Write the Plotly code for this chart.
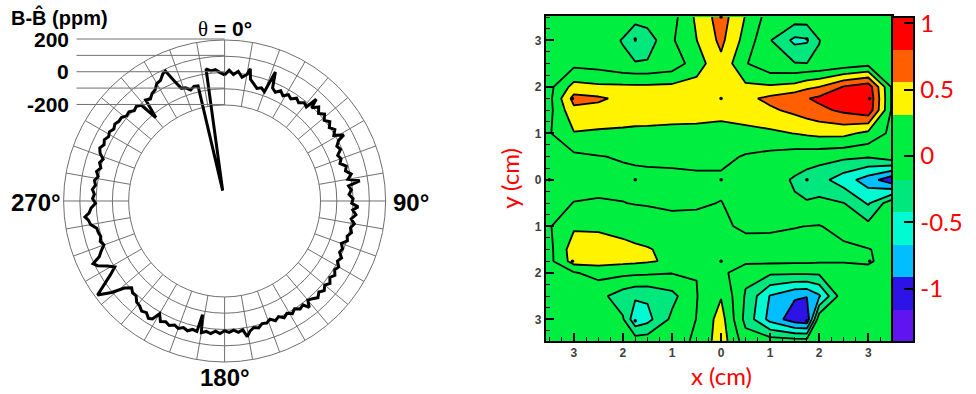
import plotly.graph_objects as go

W, H = 976, 394

# ---------------- ring scan: B - B_hat (ppm) vs azimuth (deg, clockwise from top) -------------
theta_deg = [0, 2, 4, 6, 8, 10, 11, 12, 14, 16, 18, 20, 21.5, 23, 25, 27, 29, 31, 33, 35, 37, 39,
             41, 42, 43, 45, 47, 49, 51, 53, 55, 57, 59, 61, 62, 64, 66, 68, 70, 72, 74, 76, 78,
             80, 81.5, 83, 85, 87, 89, 91, 92.5, 94, 96, 98, 100, 102, 104, 106, 108, 110, 112,
             114, 116, 118, 120, 122, 124, 126, 128, 130, 132, 134, 136, 138, 140, 141.5, 143,
             145, 147, 149, 151, 153, 155, 157, 159, 161, 163, 165, 167, 169, 170.5, 172, 174,
             176, 178, 180, 182, 184, 186, 188, 190, 191, 192, 194, 196, 198, 200, 202, 204, 206,
             208, 210, 211.5, 213, 215, 217, 219, 221, 223, 225, 227, 229, 231, 233.5, 235, 237,
             239, 241, 243, 244.5, 246, 248, 250, 252, 254, 256, 258, 260, 262, 263.5, 265, 267,
             269, 271, 273, 275, 277, 279, 281, 283, 285, 287, 289, 291, 293, 295, 297, 299, 301,
             303, 305, 307, 309, 311, 313, 315, 317, 319, 320.5, 322, 324, 326, 328, 330, 332,
             334, 335.5, 337, 339, 341, 343, 345, 347, 349.5, 352, 354, 356, 358, 360]
dB_ppm = [-15, 15, -10, 12, -22, 0, 38, -25, -48, -70, -58, -75, 62, -35, -52, -30, -50, -28,
          -42, -18, -34, -12, -24, 52, -5, 28, 0, 24, -2, 20, -4, 18, -6, 48, 4, -22, -10, -40,
          -28, -44, -12, -24, 6, -20, 50, -22, -8, -24, 0, -8, 32, 0, 22, -4, 20, 2, 14, -6, 4,
          -26, -8, -16, 10, -4, 20, 8, 28, 10, 32, 14, 34, 16, 36, 18, 6, 46, 10, 20, 0, 18, 0,
          16, -6, 10, -12, 4, -2, 18, 8, 26, 56, 10, 22, 6, 18, 8, 26, 12, 30, 20, 32, -78, 30,
          24, 40, 28, 44, 32, 48, 36, 50, 10, 60, 70, 48, 58, 40, 34, 8, 10, -8, 26, 104, 182,
          120, 50, -2, 34, 86, 106, 54, 28, 0, 14, 2, 10, 14, 46, 56, 74, 46, 32, 4, 22, 12, 26,
          10, 20, 2, 18, -2, 14, 0, 30, 44, 28, 40, 26, 36, 22, 34, 24, 26, 8, 14, -4, 6, -10,
          -125, -2, -14, 8, 16, 44, 50, 78, 88, 20, -48, -54, -76, -60, -64, -725, 30, 14, 20, 0,
          -15]

ring_vals = [-200, -100, 0, 100, 200]
scale_labels = {200: "200", 0: "0", -200: "-200"}
spoke_angles = list(range(0, 360, 10))

# polar geometry (pixels)
R_MIN, R_MAX = -790, 200
CX, CY, RAD = 226, 201, 162

# ---------------- field map over the probe area (cm) ----------------
grid_x = [-3.5, -3, -2.5, -2, -1.75, -1.5, -1, -0.5, 0, 0.5, 1, 1.5, 1.75, 2, 2.5, 3, 3.5]
grid_y = [3.5, 3, 2.5, 2, 1.75, 1.5, 1, 0.5, 0, -0.5, -1, -1.5, -1.75, -2, -2.5, -3, -3.5]
dB_map = [
    [0, 0, 0, -0.05, -0.06, -0.06, -0.02, 0.36, 0.68, 0.30, -0.05, -0.04, -0.04, -0.03, 0, 0, 0],
    [0, 0, -0.05, -0.19, -0.43, -0.30, 0.04, 0.31, 0.62, 0.22, -0.16, -0.48, -0.45, -0.18, -0.03, 0, 0],
    [0, 0, -0.03, -0.12, -0.15, -0.15, -0.08, 0.20, 0.50, 0.09, -0.12, -0.16, -0.17, -0.15, -0.10, -0.02, 0],
    [0, 0.40, 0.36, 0.36, 0.36, 0.36, 0.37, 0.40, 0.45, 0.36, 0.35, 0.40, 0.50, 0.56, 0.82, 0.95, 0],
    [0, 0.65, 0.60, 0.50, 0.48, 0.47, 0.46, 0.45, 0.45, 0.50, 0.62, 0.74, 0.79, 0.86, 0.95, 1.02, 0],
    [0, 0.50, 0.48, 0.45, 0.44, 0.43, 0.42, 0.42, 0.40, 0.45, 0.52, 0.62, 0.68, 0.74, 0.86, 0.98, 0],
    [0.05, 0.30, 0.28, 0.27, 0.26, 0.26, 0.25, 0.24, 0.22, 0.24, 0.27, 0.32, 0.35, 0.38, 0.38, 0.25, 0],
    [0, 0.02, 0.06, 0.09, 0.10, 0.11, 0.12, 0.13, 0.13, 0.05, 0.0, -0.05, -0.06, -0.08, -0.12, -0.15, 0],
    [0, 0, 0, 0.01, 0.02, 0.02, 0.02, 0.03, 0.03, 0.0, -0.08, -0.20, -0.27, -0.33, -0.55, -0.78, -1.10],
    [0, 0.075, 0.09, 0.075, 0.06, 0.05, 0.03, 0.05, 0.075, 0.0, -0.08, -0.15, -0.16, -0.12, -0.17, -0.45, 0],
    [0.05, 0.28, 0.28, 0.24, 0.22, 0.20, 0.15, 0.12, 0.10, 0.04, 0.05, 0.065, 0.072, 0.08, 0.0, -0.10, 0],
    [0, 0.45, 0.42, 0.38, 0.35, 0.33, 0.26, 0.18, 0.17, 0.14, 0.12, 0.12, 0.12, 0.12, 0.11, 0.08, 0],
    [0, 0.42, 0.42, 0.38, 0.36, 0.34, 0.28, 0.17, 0.15, 0.13, 0.12, 0.11, 0.11, 0.10, 0.10, 0.09, 0],
    [0, 0.05, 0.15, 0.13, 0.12, 0.11, 0.08, 0.075, 0.15, -0.12, -0.13, -0.13, -0.13, -0.13, -0.15, 0.02, 0],
    [0, 0, -0.10, -0.30, -0.38, -0.38, -0.25, 0.06, 0.30, -0.20, -0.68, -0.88, -0.90, -0.70, 0, 0, 0],
    [0, 0, -0.05, -0.15, -0.60, -0.50, -0.12, 0.075, 0.42, -0.25, -0.75, -1.05, -1.10, 0, 0, 0, 0],
    [0, 0, 0, 0, 0, 0, 0, 0.10, 0.45, -0.05, 0, 0, 0, 0, 0, 0, 0],
]

# probe positions: centre, inner ring (1.75 cm), outer ring (3.5 cm)
probe_x = [0, 0, 1.75, 0, -1.75, 3.5, 3.03, 1.75, 0, -1.75, -3.03, -3.5, -3.03, -1.75, 0, 1.75, 3.03]
probe_y = [0, 1.75, 0, -1.75, 0, 0, 1.75, 3.03, 3.5, 3.03, 1.75, 0, -1.75, -3.03, -3.5, -3.03, -1.75]

level_start, level_end, level_step = -1.155, 0.806, 0.245
scale_min, scale_max = -1.4, 1.05
band_colors = ["rgb(95,20,240)", "rgb(45,20,230)", "rgb(0,190,255)", "rgb(0,250,210)",
               "rgb(0,232,125)", "rgb(0,238,64)", "rgb(0,238,64)", "rgb(255,243,0)",
               "rgb(255,95,0)", "rgb(255,0,0)"]
cbar_vals = [-1, -0.5, 0, 0.5, 1]
cbar_text = ["-1", "-0.5", "0", "0.5", "1"]
axis_ticks = [-3, -2, -1, 0, 1, 2, 3]
axis_ticktext = [str(abs(v)) for v in axis_ticks]

GREEN_BG = band_colors[5]
RED = "rgb(255,0,0)"

fig = go.Figure()

# ---------- polar scan ----------
spoke_r, spoke_t = [], []
for a in spoke_angles:
    spoke_r += [ring_vals[0], ring_vals[-1], None]
    spoke_t += [a, a, None]
fig.add_trace(go.Scatterpolar(r=spoke_r, theta=spoke_t, mode="lines",
                              line=dict(color="#707070", width=1), hoverinfo="skip",
                              subplot="polar"))
fig.add_trace(go.Scatterpolar(r=dB_ppm, theta=theta_deg, mode="lines",
                              line=dict(color="black", width=3), cliponaxis=False,
                              subplot="polar"))

polar_dom_x = [(CX - RAD) / W, (CX + RAD) / W]
polar_dom_y = [1 - (CY + RAD) / H, 1 - (CY - RAD) / H]

# ---------- field map ----------
n_bands = len(band_colors)
colorscale = []
for i, c in enumerate(band_colors):
    colorscale.append([i / n_bands, c])
    colorscale.append([(i + 1) / n_bands, c])

# transparent heatmap that only carries the colour scale bar
fig.add_trace(go.Heatmap(
    x=grid_x, y=grid_y[::-1], z=dB_map[::-1], zmin=scale_min, zmax=scale_max,
    colorscale=colorscale, opacity=0, hoverinfo="skip", xaxis="x", yaxis="y",
    colorbar=dict(x=898 / W, xanchor="left", xpad=0, y=1 - 16.7 / H, yanchor="top", ypad=0,
                  len=325 / H, lenmode="fraction", thickness=22, thicknessmode="pixels",
                  outlinecolor="black", outlinewidth=2,
                  ticks="inside", ticklen=11, tickwidth=2, tickcolor="black",
                  tickvals=cbar_vals, ticktext=cbar_text,
                  tickfont=dict(family="Lato", size=24, color=RED))))

fig.add_trace(go.Contour(
    x=grid_x, y=grid_y[::-1], z=dB_map[::-1],
    autocontour=False,
    contours=dict(start=level_start, end=level_end, size=level_step,
                  coloring="fill", showlines=True),
    line=dict(color="black", width=1.8, smoothing=0),
    colorscale=colorscale, showscale=False,
    hoverinfo="skip", xaxis="x", yaxis="y"))

fig.add_trace(go.Scatter(x=probe_x, y=probe_y, mode="markers",
                         marker=dict(color="black", size=3.5), cliponaxis=False,
                         hoverinfo="skip", xaxis="x", yaxis="y"))

axis_common = dict(showline=True, linecolor="black", linewidth=2, mirror=True,
                   ticks="inside", ticklen=8, tickwidth=1.5, tickcolor="black",
                   minor=dict(dtick=0.25, tick0=0, ticks="inside", ticklen=4,
                              tickcolor="black", tickwidth=1),
                   tickvals=axis_ticks, ticktext=axis_ticktext,
                   tickfont=dict(family="Liberation Sans", size=12, color="#404040",
                                 weight="bold"),
                   showgrid=False, zeroline=False, fixedrange=True)

# ---------- text / guides ----------
annotations = []
shapes = []


def ring_px(v):
    return CY - RAD * (v - R_MIN) / (R_MAX - R_MIN)


for v in ring_vals:
    yp = ring_px(v)
    shapes.append(dict(type="line", xref="paper", yref="paper",
                       x0=77 / W, x1=CX / W, y0=1 - yp / H, y1=1 - yp / H,
                       line=dict(color="#707070", width=1)))
    if v in scale_labels:
        annotations.append(dict(text="<b>%s</b>" % scale_labels[v], x=71 / W, y=1 - yp / H,
                                xanchor="right", yanchor="middle",
                                font=dict(family="Liberation Sans", size=21, color="black")))

bold = dict(family="Liberation Sans", color="black")
annotations += [
    dict(text="<b>B-B\u0302 (ppm)</b>", x=9 / W, y=1 - 17 / H, xanchor="left", yanchor="middle",
         font=dict(size=20, **bold)),
    dict(text="<span style='font-family:Liberation Serif'>θ</span><b> = 0°</b>",
         x=CX / W, y=1 - 29 / H, xanchor="center", yanchor="middle", font=dict(size=21, **bold)),
    dict(text="<b>270°</b>", x=36 / W, y=1 - 202 / H, xanchor="center", yanchor="middle",
         font=dict(size=24, **bold)),
    dict(text="<b>90°</b>", x=414 / W, y=1 - 202 / H, xanchor="center", yanchor="middle",
         font=dict(size=24, **bold)),
    dict(text="<b>180°</b>", x=CX / W, y=1 - 377 / H, xanchor="center", yanchor="middle",
         font=dict(size=24, **bold)),
    dict(text="x (cm)", x=726 / W, y=1 - 375 / H, xanchor="center", yanchor="middle",
         font=dict(family="Lato", size=24, color=RED)),
    dict(text="y (cm)", x=512 / W, y=1 - 178 / H, xanchor="center", yanchor="middle",
         textangle=-90, font=dict(family="Lato", size=24, color=RED)),
]
for a in annotations:
    a.setdefault("xref", "paper")
    a.setdefault("yref", "paper")
    a["showarrow"] = False

fig.update_layout(
    width=W, height=H, margin=dict(l=0, r=0, t=0, b=0),
    paper_bgcolor="white", plot_bgcolor=GREEN_BG, showlegend=False,
    polar=dict(domain=dict(x=polar_dom_x, y=polar_dom_y), bgcolor="white",
               radialaxis=dict(range=[R_MIN, R_MAX], tickvals=ring_vals, showticklabels=False,
                               ticks="", showline=False, gridcolor="#707070", gridwidth=1),
               angularaxis=dict(rotation=90, direction="clockwise", showgrid=False,
                                showticklabels=False, ticks="", showline=True,
                                linecolor="#707070", linewidth=1)),
    xaxis=dict(domain=[549.3 / W, 897.3 / W], range=[-3.57, 3.48], anchor="y", **axis_common),
    yaxis=dict(domain=[1 - 340.7 / H, 1 - 15.7 / H], range=[-3.46, 3.53], anchor="x",
               **axis_common),
    annotations=annotations, shapes=shapes,
)

fig.write_html("out.html")
